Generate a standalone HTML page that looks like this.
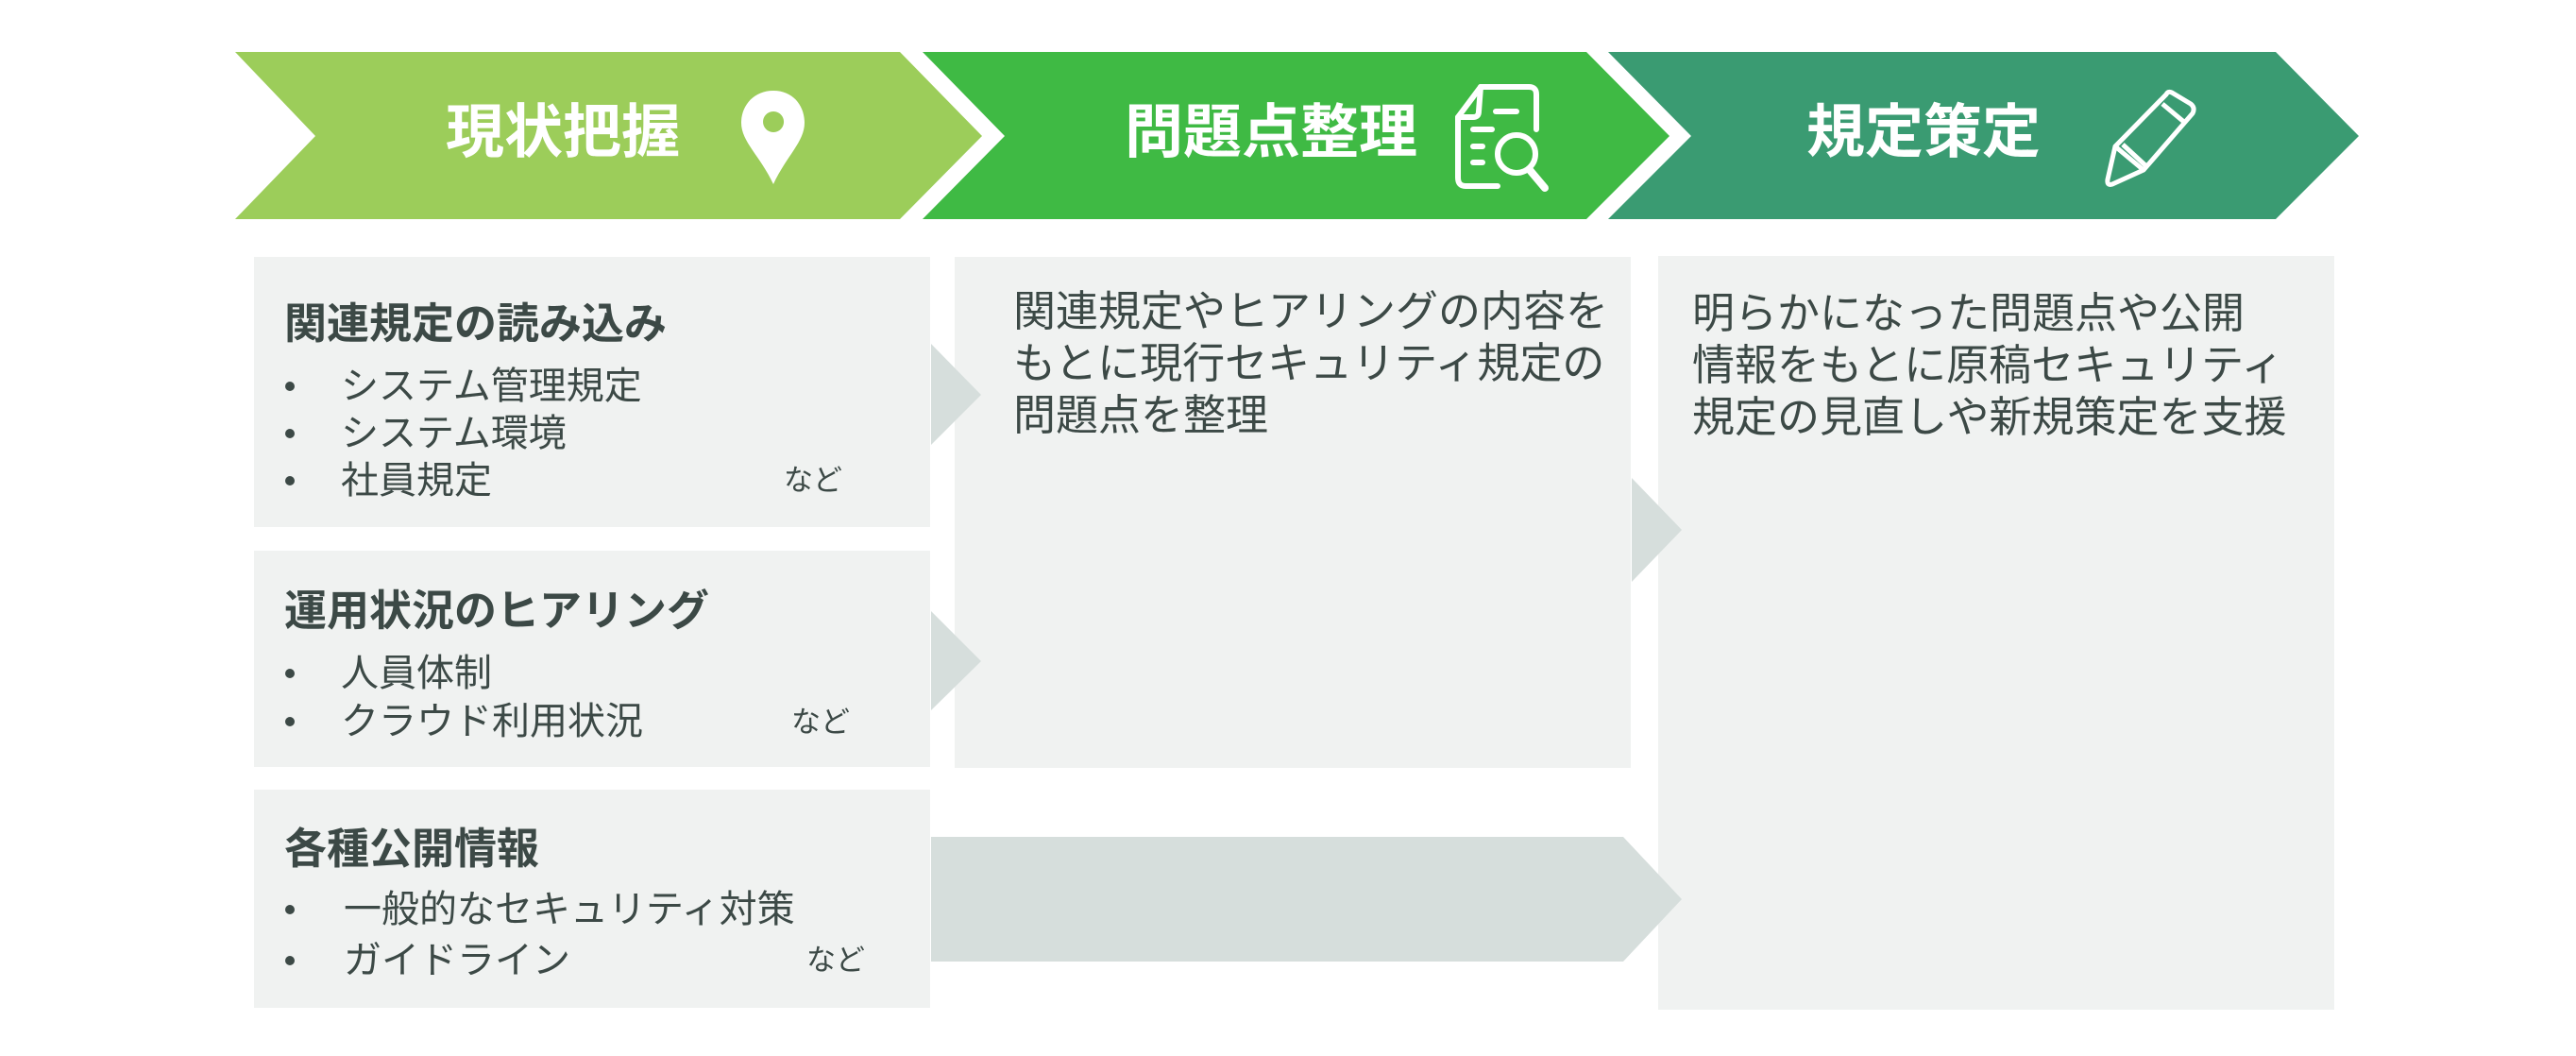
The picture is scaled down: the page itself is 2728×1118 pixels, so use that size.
<!DOCTYPE html>
<html><head><meta charset="utf-8">
<style>
html,body{margin:0;padding:0;background:#fff;}
body{width:2728px;height:1118px;position:relative;overflow:hidden;font-family:"Liberation Sans","Noto Sans CJK JP",sans-serif;color:#3c4946;}
.t{position:absolute;white-space:nowrap;line-height:1;}
.h{font-size:62px;font-weight:bold;color:#fff;}
.ti{font-size:45px;font-weight:bold;}
.b{font-size:40px;}
.nd{font-size:31px;}
.dot{position:absolute;width:10px;height:10px;border-radius:50%;background:#3c4946;}
.p{font-size:45px;line-height:55px;}
</style></head><body>
<svg width="2728" height="1118" style="position:absolute;left:0;top:0">
<polygon points="249,55 953,55 1040,144 953,232 249,232 334,144" fill="#9ccd5a"/>
<polygon points="977,55 1680,55 1768,144 1680,232 977,232 1064,144" fill="#3fba44"/>
<polygon points="1703,55 2410,55 2498,144 2410,232 1703,232 1791,144" fill="#3a9b72"/>
<rect x="269" y="272" width="716" height="286" fill="#f0f2f1"/>
<rect x="269" y="583" width="716" height="229" fill="#f0f2f1"/>
<rect x="269" y="836" width="716" height="231" fill="#f0f2f1"/>
<rect x="1011" y="272" width="716" height="541" fill="#f0f2f1"/>
<rect x="1756" y="271" width="716" height="798" fill="#f0f2f1"/>
<polygon points="986,364 1039,418 986,471" fill="#d6dedc"/>
<polygon points="986,647 1039,700 986,752" fill="#d6dedc"/>
<polygon points="1728,506 1781,561 1728,616" fill="#d6dedc"/>
<polygon points="986,886 1719,886 1781,952 1719,1018 986,1018" fill="#d6dedc"/>
<path d="M819,96 C798,96 785,112 785,130 C785,150 805,165 819,195 C833,165 852,150 852,130 C852,112 840,96 819,96 Z M819,118 a11,11 0 1,0 0.1,0 Z" fill="#fff" fill-rule="evenodd"/>
<g fill="none" stroke="#fff" stroke-width="6" stroke-linejoin="round" stroke-linecap="round">
<path d="M1568,92 L1619,92 Q1627,92 1627,100 L1627,137"/>
<path d="M1568,92 L1544,124 L1544,188 Q1544,197 1552,197 L1586,197"/>
<path d="M1544,124 L1560,124 Q1566,124 1566,118 L1568,92"/>
<line x1="1584" y1="118" x2="1606" y2="118"/>
<line x1="1560" y1="137" x2="1580" y2="137"/>
<line x1="1560" y1="155" x2="1570" y2="155"/>
<line x1="1560" y1="172" x2="1570" y2="172"/>
<circle cx="1606" cy="163" r="20"/>
<line x1="1620" y1="180" x2="1636" y2="199" stroke-width="8"/>
</g>
<g fill="none" stroke="#fff" stroke-width="5" stroke-linejoin="round">
<path d="M2300,98 L2320,110 Q2325,114 2322,120 L2270,180 L2237,195 Q2231,197 2232,190 L2240,155 L2294,100 Q2296,96 2300,98 Z"/>
<line x1="2240" y1="155" x2="2270" y2="180"/>
<line x1="2248" y1="153" x2="2273" y2="176"/>
<line x1="2290" y1="110" x2="2314" y2="130"/>
</g>
</svg>

<div class="t h" style="left:472px;top:110px;">現状把握</div>
<div class="t h" style="left:1191px;top:110px;">問題点整理</div>
<div class="t h" style="left:1913px;top:110px;">規定策定</div>

<div class="t ti" style="left:301px;top:320px;">関連規定の読み込み</div>
<div class="dot" style="left:302px;top:404px"></div>
<div class="t b" style="left:361px;top:389px;">システム管理規定</div>
<div class="dot" style="left:302px;top:454px"></div>
<div class="t b" style="left:361px;top:439px;">システム環境</div>
<div class="dot" style="left:302px;top:504px"></div>
<div class="t b" style="left:361px;top:489px;">社員規定</div>
<div class="t nd" style="left:830px;top:493px;">など</div>

<div class="t ti" style="left:301px;top:624px;">運用状況のヒアリング</div>
<div class="dot" style="left:302px;top:708px"></div>
<div class="t b" style="left:361px;top:693px;">人員体制</div>
<div class="dot" style="left:302px;top:759px"></div>
<div class="t b" style="left:361px;top:744px;">クラウド利用状況</div>
<div class="t nd" style="left:838px;top:749px;">など</div>

<div class="t ti" style="left:301px;top:876px;">各種公開情報</div>
<div class="dot" style="left:302px;top:958px"></div>
<div class="t b" style="left:364px;top:943px;">一般的なセキュリティ対策</div>
<div class="dot" style="left:302px;top:1012px"></div>
<div class="t b" style="left:364px;top:997px;">ガイドライン</div>
<div class="t nd" style="left:854px;top:1001px;">など</div>

<div class="t p" style="left:1073px;top:302px;">関連規定やヒアリングの内容を<br>もとに現行セキュリティ規定の<br>問題点を整理</div>
<div class="t p" style="left:1792px;top:304px;">明らかになった問題点や公開<br>情報をもとに原稿セキュリティ<br>規定の見直しや新規策定を支援</div>
</body></html>
